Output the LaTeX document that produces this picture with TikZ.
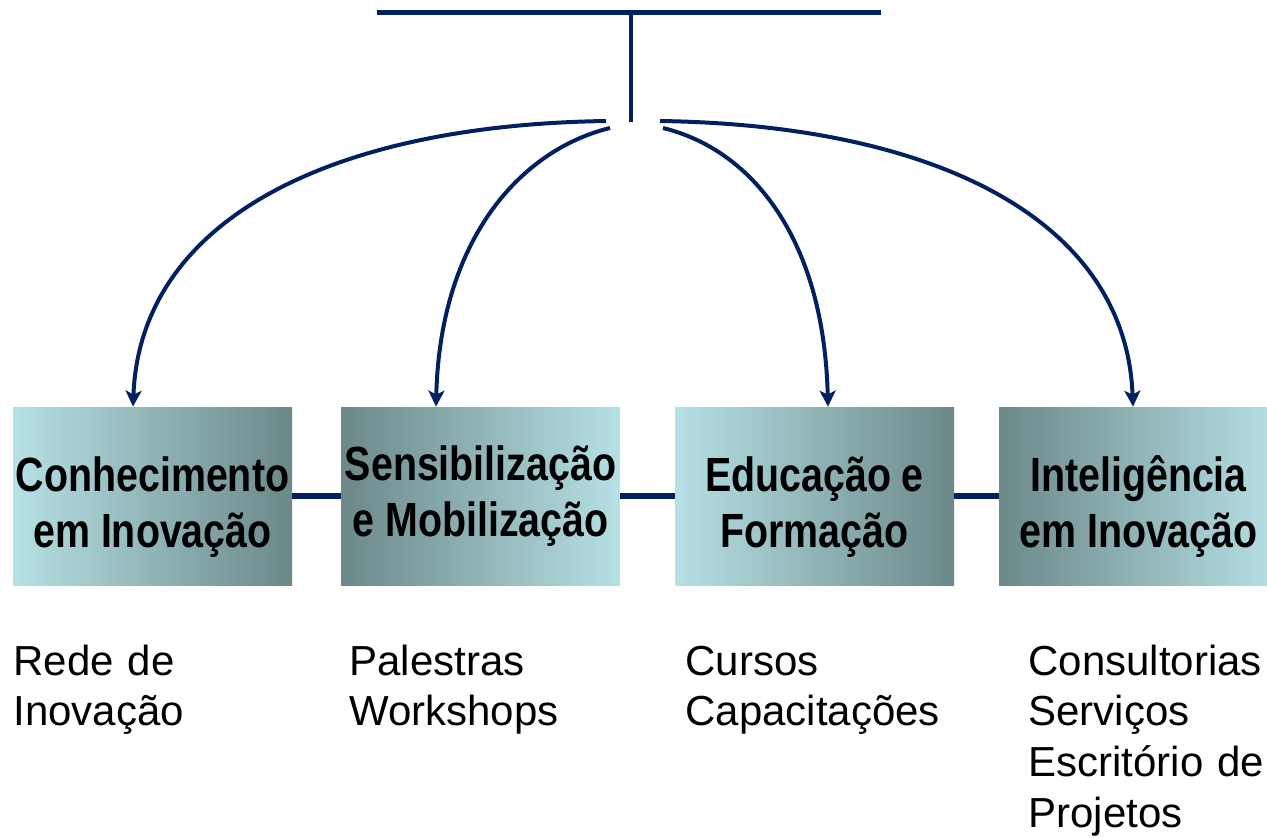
\documentclass[tikz,border=0pt]{standalone}
\usepackage{fontspec}
\setmainfont{Liberation Sans}
\newfontfamily\boxfont{Liberation Sans}[FakeStretch=0.82]
\usepackage{xcolor}
\usetikzlibrary{arrows.meta, positioning}

\definecolor{navy}{RGB}{0,32,96}
\definecolor{boxlight}{RGB}{182,225,229}
\definecolor{boxdark}{RGB}{108,136,137}

\newcommand{\lift}{\rule{0pt}{28pt}}

\begin{document}
\begin{tikzpicture}[x=0.5pt, y=-0.5pt,
    area/.style={rectangle, minimum width=139.5pt, minimum height=89pt, inner sep=0pt, align=center, font=\boxfont\bfseries\fontsize{24}{28}\selectfont},
    lightdark/.style={area, left color=boxlight, right color=boxdark},
    darklight/.style={area, left color=boxdark, right color=boxlight},
    link/.style={navy, line width=3pt},
    bar/.style={navy, line width=2.5pt},
    branch/.style={navy, line width=2pt, -{Stealth[length=8pt, width=8pt, inset=2pt]}},
    items/.style={anchor=base west, text width=140pt, align=left, inner sep=0pt, font=\fontsize{21}{25.4}\selectfont}
]
\useasboundingbox (0,0) rectangle (1267,837);

% Top bar and stem
\coordinate (barL) at (377,12);
\coordinate (barR) at (881,12);
\coordinate (stem) at (631,12);
\coordinate (stemEnd) at (631,122);
\draw[bar] (barL) -- (barR);
\draw[navy, line width=2pt] (stem) -- (stemEnd);

% Start points of the branches
\coordinate (outL) at (606,121);
\coordinate (inL) at (610,128);
\coordinate (inR) at (663,128);
\coordinate (outR) at (660,121);

% Areas
\node[lightdark] (know) at (152.5,496) {\lift Conhecimento\\em Inovação};
\node[darklight] (sens) at (480.5,496) {Sensibilização\\e Mobilização};
\node[lightdark] (edu) at (814.5,496) {\lift Educação e\\Formação};
\node[darklight] (intel) at (1138.5,496) {\lift Inteligência\\em Inovação};

% Links between areas
\draw[link] (know) -- (sens);
\draw[link] (sens) -- (edu);
\draw[link] (edu) -- (intel);

% Branches
\draw[branch] (outL) .. controls (330,125) and (140,220) .. ([xshift=-9.75pt]know.north);
\draw[branch] (inL) .. controls (520,150) and (440,240) .. ([xshift=-22.25pt]sens.north);
\draw[branch] (inR) .. controls (753,150) and (824,240) .. ([xshift=6.75pt]edu.north);
\draw[branch] (outR) .. controls (936,125) and (1126,220) .. ([xshift=-2.75pt]intel.north);

% Activities
\node[items] (knowItems) at (13,675) {Rede de\\Inovação};
\node[items] (sensItems) at (349,675) {Palestras\\Workshops};
\node[items] (eduItems) at (685,675) {Cursos\\Capacitações};
\node[items] (intelItems) at (1028,675) {Consultorias\\Serviços\\Escritório de\\Projetos};

\end{tikzpicture}
\end{document}
